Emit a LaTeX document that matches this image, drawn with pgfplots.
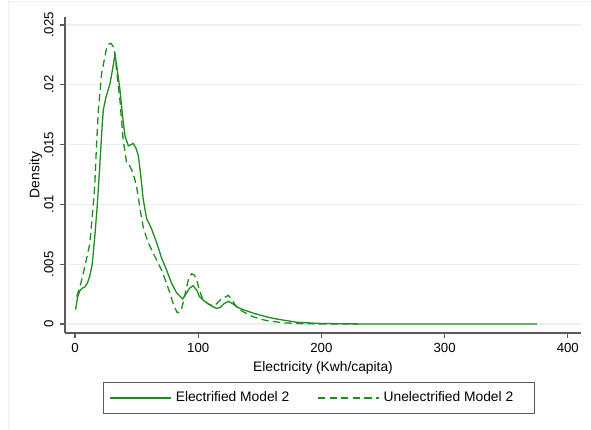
\documentclass[border=0pt]{standalone}
\usepackage{fontspec}
\setmainfont{Liberation Sans}
\usepackage{pgfplots}
\pgfplotsset{compat=1.18}
\definecolor{lgreen}{RGB}{30,140,30}
\definecolor{gridc}{RGB}{232,240,242}
\definecolor{axisc}{RGB}{90,90,90}
\begin{document}
\begin{tikzpicture}
\begin{axis}[
  scale only axis,
  width=258pt, height=158pt,
  xmin=-8.1, xmax=410.7,
  ymin=-0.00075, ymax=0.02567,
  axis lines*=left,
  axis line style={axisc, line width=0.7pt},
  tick style={axisc, line width=0.6pt},
  tick align=outside,
  major tick length=2.5pt,
  xtick={0,100,200,300,400},
  ytick={0,0.005,0.01,0.015,0.02,0.025},
  yticklabels={0,.005,.01,.015,.02,.025},
  scaled y ticks=false,
  /pgf/number format/assume math mode=true,
  ymajorgrids,
  grid style={gridc, line width=0.6pt},
  font=\fontsize{6.9}{8}\selectfont,
  ticklabel style={font=\fontsize{6.6}{8}\selectfont},
  yticklabel style={rotate=90, anchor=south, inner sep=1pt},
  yticklabel shift=2pt,
  xticklabel style={inner sep=2.5pt},
  xlabel={Electricity (Kwh/capita)},
  ylabel={Density},
  xlabel style={yshift=1.5pt},
  ylabel style={yshift=-3.5pt},
  legend style={at={(0.492,-0.155)}, anchor=north, draw=axisc, line width=0.5pt,
    inner xsep=3pt, inner ysep=2.5pt, font=\fontsize{6.9}{8}\selectfont},
  legend columns=2,
  /tikz/every even column/.append style={column sep=12pt},
  legend image code/.code={\draw[#1] (0pt,0pt) -- (27.5pt,0pt); \path (0pt,0pt) -- (30.5pt,0pt);},
  every axis plot/.append style={line width=0.65pt, lgreen},
  clip=false,
]
\path (rel axis cs:0,0) coordinate (sw) (rel axis cs:1,1) coordinate (ne);
\addplot[lgreen] coordinates {
(0.5,0.0012) (2,0.0022) (4,0.0028) (6,0.0030) (8,0.0031) (10,0.0034) (12,0.0040) (14,0.0050) (16,0.0072) (18,0.0098) (20,0.0130) (22,0.0165) (23,0.0179) (25,0.0189) (28.4,0.0201) (30,0.0210) (32.5,0.0225) (34,0.0215) (36.5,0.0196) (38.5,0.0175) (40.6,0.0157) (43.3,0.0149) (45.5,0.0150) (47.3,0.0151) (49.5,0.0147) (51.4,0.0141) (53.5,0.0123) (55.4,0.0104) (58.2,0.0088) (62,0.0080) (66.3,0.0068) (70,0.0056) (74.4,0.0045) (78,0.0035) (82.5,0.0026) (87.4,0.0021) (90,0.0025) (93,0.0030) (96,0.0032) (99,0.0028) (101,0.0023) (104,0.0020) (108,0.0017) (111,0.0015) (115,0.0013) (118,0.0014) (121,0.0017) (124.4,0.0019) (128,0.0017) (132,0.0014) (136.6,0.0012) (145,0.0009) (155.6,0.0006) (162,0.00045) (169,0.00033) (180,0.00015) (196,0.00006) (210,0.00003) (230,0.00001) (260,0.000005) (300,0.0) (340,0) (375,0)
};
\addlegendentry{Electrified Model 2}
\addplot[lgreen, dash pattern=on 3.6pt off 2.2pt] coordinates {
(1.4,0.0023) (4,0.0031) (8,0.0048) (12,0.0067) (14.9,0.0100) (16,0.0115) (17.5,0.0150) (19,0.0179) (21.7,0.0210) (25.7,0.0231) (27.5,0.0234) (29.2,0.02347) (31,0.0232) (32.5,0.0225) (34.5,0.0205) (36.5,0.0187) (39,0.0155) (42,0.0134) (44,0.0133) (46,0.0129) (48,0.0123) (50,0.0115) (51.4,0.0106) (53.5,0.0092) (55.4,0.0081) (59,0.0069) (63.6,0.0059) (67,0.0052) (70.3,0.0045) (74,0.0035) (77,0.0026) (80,0.0016) (83,0.00095) (85,0.0010) (86.6,0.0013) (88.5,0.0021) (90.6,0.0031) (92.5,0.0039) (94.7,0.0042) (96.8,0.0041) (98.8,0.0037) (101,0.0028) (104,0.0020) (108,0.0017) (112.3,0.0015) (115,0.0017) (117.7,0.0020) (121,0.0022) (124.4,0.0024) (127,0.0021) (131,0.00145) (137,0.0010) (144.7,0.0006) (155,0.0003) (169,0.0001) (185,0.00003) (200,0.00001) (230,0)
};
\addlegendentry{Unelectrified Model 2\rule{5.5pt}{0pt}}
\end{axis}
\pgfresetboundingbox
\path[use as bounding box] ([shift={(-32.5pt,-48pt)}]sw) rectangle ([shift={(5pt,8.5pt)}]ne);
\draw[gridc, line width=0.5pt] ([shift={(-28.5pt,-60pt)}]sw) -- ([shift={(-28.5pt,7.5pt)}]sw|-ne) -- ([shift={(10pt,7.5pt)}]ne);
\end{tikzpicture}
\end{document}
